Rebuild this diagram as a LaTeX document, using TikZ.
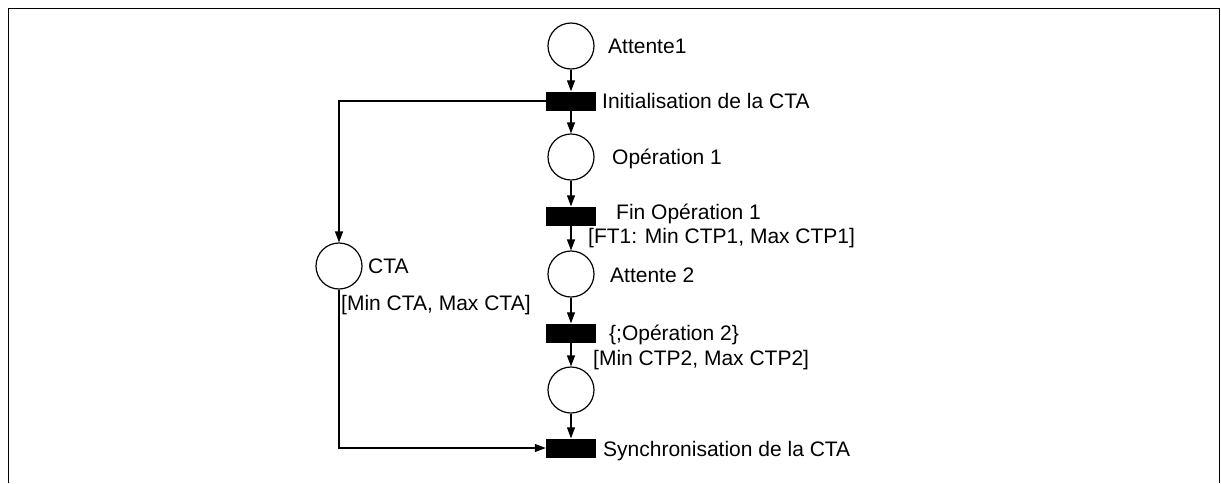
\documentclass[tikz,border=0pt]{standalone}
\usepackage{fontspec}
\setmainfont{Liberation Sans}
\usetikzlibrary{arrows.meta}
\tikzset{
  place/.style={circle, draw, line width=1.2pt, minimum size=46pt, inner sep=0pt},
  trans/.style={rectangle, fill=black, draw=none, minimum width=50pt, minimum height=19pt, inner sep=0pt},
  lbl/.style={anchor=base west, inner sep=0pt, font=\fontsize{21}{25}\selectfont},
  arc/.style={line width=1.2pt, -{Triangle[length=11pt,width=8pt]}},
  plain/.style={line width=1.2pt},
}
\begin{document}
\begin{tikzpicture}[x=1pt,y=-1pt]
\useasboundingbox (0,0) rectangle (1221,483);
% frame
\draw[line width=1.6pt] (8.5,483) -- (8.5,8.5) -- (1219.5,8.5) -- (1219.5,483);
% places and transitions
\node[place] (p1) at (571,46) {};
\node[trans] (t1) at (571,101) {};
\node[place] (p2) at (571,157) {};
\node[trans] (t2) at (571,216) {};
\node[place] (p3) at (571,274) {};
\node[trans] (t3) at (571,333) {};
\node[place] (p4) at (571,390) {};
\node[trans] (t4) at (571,448) {};
\node[place] (cta) at (339,266) {};
% arcs
\draw[arc] (p1) -- (t1);
\draw[arc] (t1) -- (p2);
\draw[arc] (p2) -- (t2);
\draw[arc] (t2) -- (p3);
\draw[arc] (p3) -- (t3);
\draw[arc] (t3) -- (p4);
\draw[arc] (p4) -- (t4);
\draw[arc] (t1.west) -| (cta.north);
\draw[arc] (cta.south) |- (t4.west);
% labels
\node[lbl] (l1) at (608,53) {Attente1};
\node[lbl] (l2) at (602,108.5) {Initialisation de la CTA};
\node[lbl] (l3) at (612,164.5) {Opération 1};
\node[lbl] (l4) at (616,219.5) {Fin Opération 1};
\node[lbl] (l5) at (588,243.5) {[FT1: Min CTP1, Max CTP1]};
\node[lbl] (l6) at (610,282) {Attente 2};
\node[lbl] (l7) at (609,340) {\{;Opération 2\}};
\node[lbl] (l8) at (593,365) {[Min CTP2, Max CTP2]};
\node[lbl] (l9) at (603,456.5) {Synchronisation de la CTA};
\node[lbl] (l10) at (368,273.5) {CTA};
\node[lbl] (l11) at (341,310) {[Min CTA, Max CTA]};
\end{tikzpicture}
\end{document}
